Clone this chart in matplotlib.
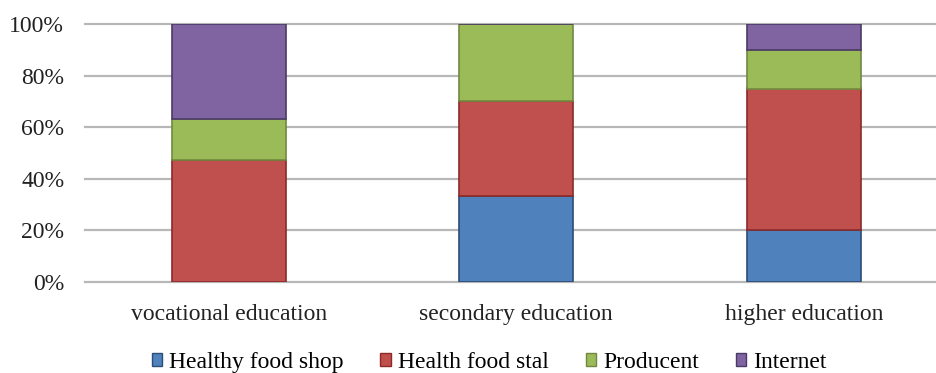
import matplotlib
matplotlib.use("Agg")
import matplotlib.pyplot as plt
import numpy as np
from matplotlib.patches import Patch

plt.rcParams['font.family'] = ['Liberation Serif', 'DejaVu Serif']

categories = ["vocational education", "secondary education", "higher education"]
series_names = ["Healthy food shop", "Health food stal", "Producent", "Internet"]
healthy_food_shop = [0.0, 33.3, 20.0]
health_food_stal = [47.4, 36.7, 55.0]
producent = [15.8, 30.0, 15.0]
internet = [36.8, 0.0, 10.0]
yticks = [0, 20, 40, 60, 80, 100]
ytick_labels = ["0%", "20%", "40%", "60%", "80%", "100%"]

series = [healthy_food_shop, health_food_stal, producent, internet]
fills = ["#4F81BD", "#C0504D", "#9BBB59", "#8064A2"]
edges = ["#2C4D75", "#8C2A28", "#71893F", "#4B3A66"]

fig = plt.figure(figsize=(9.37, 3.73), dpi=100)
ax = fig.add_axes([85/937, 1-282/373, 1-85/937, (282-24)/373])

x = np.arange(len(categories))
bottom = np.zeros(len(categories))
for vals, fc, ec in zip(series, fills, edges):
    v = np.array(vals)
    ax.bar(x, v, 0.397, bottom=bottom, color=fc, edgecolor=ec, linewidth=1.2, zorder=3)
    bottom += v

ax.set_xlim(-0.5, 2.5 - 10.5/287.5)
ax.set_ylim(0, 100)
ax.set_yticks(yticks)
ax.set_yticklabels(ytick_labels)
ax.yaxis.grid(True, color="#B7B7B7", linewidth=1.6, zorder=0)
for gl in ax.get_ygridlines():
    gl.set_clip_on(False)
ax.set_xticks(x)
ax.set_xticklabels(categories)
for s in ax.spines.values():
    s.set_visible(False)
ax.tick_params(axis='y', length=0, pad=15, labelsize=17, labelcolor="#222222")
ax.tick_params(axis='x', length=0, pad=15.5, labelsize=17, labelcolor="#222222")

handles = [Patch(facecolor=fc, edgecolor=ec, linewidth=1.0) for fc, ec in zip(fills, edges)]
fig.legend(handles, series_names, loc="lower center", bbox_to_anchor=(0.522, -0.057), ncol=4,
           frameon=False, fontsize=17, handlelength=0.45, handleheight=0.45,
           handletextpad=0.3, columnspacing=1.55)

fig.savefig("out.png", dpi=100)
